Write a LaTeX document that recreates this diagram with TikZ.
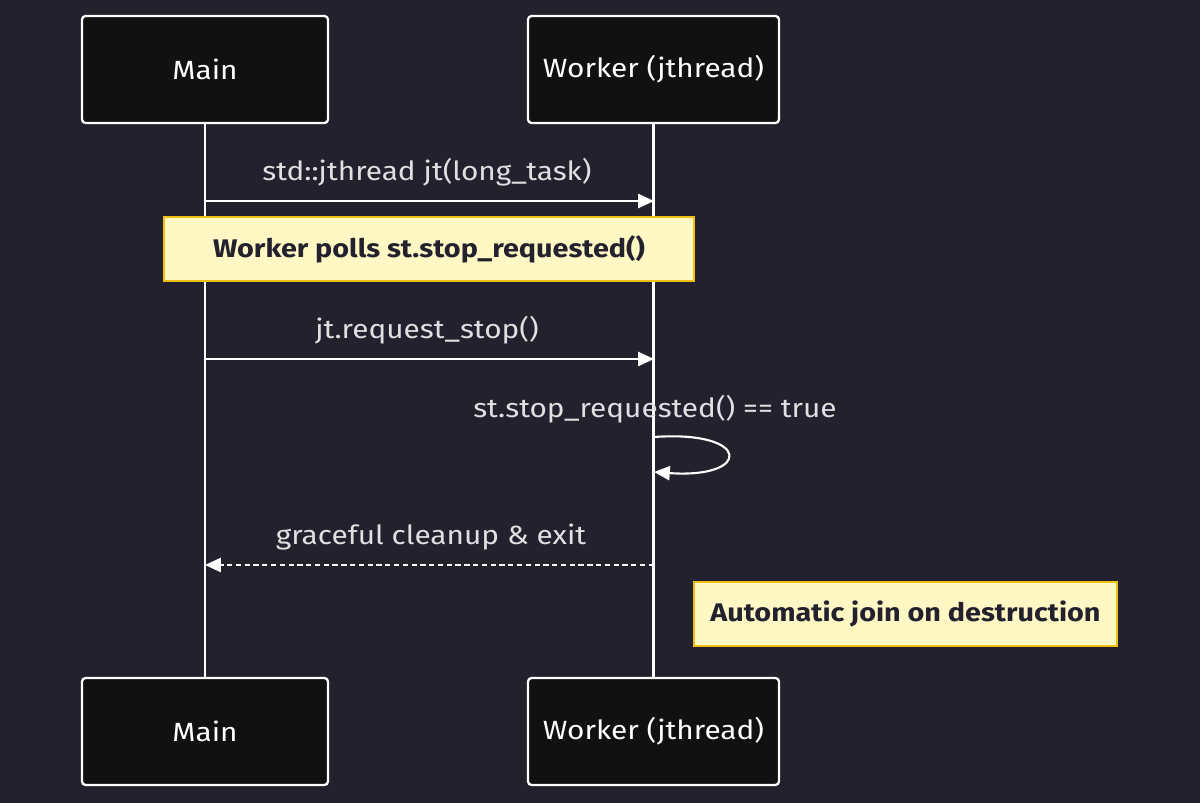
\documentclass[tikz,border=0pt]{standalone}
\usepackage{fontspec}
\setmainfont{Fira Sans}[FakeStretch=1.13]
\usetikzlibrary{arrows.meta}
\definecolor{bg}{HTML}{23212E}
\definecolor{box}{HTML}{111111}
\definecolor{notef}{HTML}{FFF8C4}
\definecolor{noted}{HTML}{F0C010}
\definecolor{txt}{HTML}{E0E0E0}
\begin{document}
\begin{tikzpicture}[x=0.02cm,y=-0.02cm,
 actor/.style={draw=white,line width=1.3pt,fill=box,rounded corners=2pt,text=white,font=\fontsize{15}{18}\selectfont},
 note/.style={draw=noted,line width=1.2pt,fill=notef,text=bg,font=\bfseries\fontsize{14.5}{18}\selectfont},
 msg/.style={draw=white,line width=1.2pt,-{Triangle[length=9pt,width=8pt]}},
 lbl/.style={text=txt,font=\fontsize{15}{18}\selectfont}]
\fill[bg] (0,0) rectangle (1200,803);
\node[actor,minimum width=4.92cm,minimum height=2.14cm] (m1) at (205,69.5) {Main};
\node[actor,minimum width=5.02cm,minimum height=2.14cm] (w1) at (653.5,69.5) {Worker (jthread)};
\node[actor,minimum width=4.92cm,minimum height=2.14cm] (m2) at (205,731.5) {Main};
\node[actor,minimum width=5.02cm,minimum height=2.14cm] (w2) at (653.5,731.5) {Worker (jthread)};
\draw[white,line width=1.2pt] (m1) -- (m2);
\draw[white,line width=1.2pt] (w1) -- (w2);
\coordinate (a1) at (205,201); \coordinate (b1) at (654,201);
\draw[msg] (a1) -- (b1);
\node[lbl] (l1) at (427,172) {std::jthread jt(long\_task)};
\node[note,minimum width=10.6cm,minimum height=1.28cm] (n1) at (429,249) {Worker polls st.stop\_requested()};
\coordinate (a2) at (205,359); \coordinate (b2) at (654,359);
\draw[msg] (a2) -- (b2);
\node[lbl] (l2) at (427,330) {jt.request\_stop()};
\node[lbl] (l3) at (655,409) {st.stop\_requested() == true};
\coordinate (s1) at (654,437); \coordinate (s2) at (654,472);
\draw[msg] (s1) .. controls (752,430) and (752,479) .. (s2);
\coordinate (a3) at (654,565); \coordinate (b3) at (205,565);
\draw[msg,dashed,dash pattern=on 3pt off 2pt] (a3) -- (b3);
\node[lbl] (l4) at (431,537) {graceful cleanup \& exit};
\node[note,minimum width=8.46cm,minimum height=1.28cm] (n2) at (905.5,614) {Automatic join on destruction};
\end{tikzpicture}
\end{document}
